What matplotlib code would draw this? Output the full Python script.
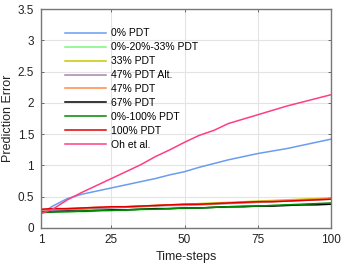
import matplotlib
matplotlib.use("Agg")
import matplotlib.pyplot as plt

plt.rcParams['font.family'] = ['Liberation Sans', 'DejaVu Sans']

t = [1, 5, 10, 15, 20, 25, 30, 35, 40, 45, 50, 55, 60, 65, 70, 75, 80, 85, 90, 95, 100]

pdt0 = [0.23, 0.35, 0.47, 0.54, 0.59, 0.64, 0.69, 0.74, 0.79, 0.85, 0.90, 0.97, 1.03, 1.09, 1.14, 1.19, 1.23, 1.27, 1.32, 1.37, 1.42]
pdt0_20_33 = [0.24, 0.25, 0.26, 0.26, 0.27, 0.28, 0.28, 0.29, 0.30, 0.31, 0.31, 0.32, 0.33, 0.33, 0.34, 0.35, 0.36, 0.37, 0.37, 0.38, 0.39]
pdt33 = [0.28, 0.29, 0.30, 0.31, 0.32, 0.33, 0.34, 0.35, 0.36, 0.37, 0.38, 0.39, 0.40, 0.41, 0.42, 0.43, 0.44, 0.45, 0.46, 0.47, 0.48]
pdt47alt = [0.27, 0.28, 0.29, 0.30, 0.31, 0.32, 0.33, 0.34, 0.35, 0.36, 0.36, 0.37, 0.38, 0.39, 0.40, 0.41, 0.42, 0.43, 0.44, 0.45, 0.46]
pdt47 = [0.29, 0.30, 0.31, 0.32, 0.33, 0.33, 0.34, 0.35, 0.36, 0.37, 0.37, 0.38, 0.39, 0.40, 0.41, 0.42, 0.43, 0.44, 0.45, 0.46, 0.47]
pdt67 = [0.25, 0.26, 0.27, 0.27, 0.28, 0.29, 0.29, 0.30, 0.31, 0.31, 0.32, 0.32, 0.33, 0.34, 0.34, 0.35, 0.35, 0.36, 0.37, 0.37, 0.38]
pdt0_100 = [0.25, 0.26, 0.26, 0.27, 0.28, 0.28, 0.29, 0.30, 0.30, 0.31, 0.32, 0.32, 0.33, 0.34, 0.35, 0.35, 0.36, 0.37, 0.38, 0.39, 0.40]
pdt100 = [0.30, 0.31, 0.31, 0.32, 0.33, 0.34, 0.34, 0.35, 0.36, 0.37, 0.38, 0.38, 0.39, 0.40, 0.41, 0.42, 0.42, 0.43, 0.44, 0.45, 0.46]
oh = [0.23, 0.30, 0.45, 0.57, 0.68, 0.79, 0.90, 1.01, 1.14, 1.25, 1.37, 1.48, 1.56, 1.67, 1.74, 1.81, 1.88, 1.95, 2.01, 2.07, 2.13]

labels = ['0% PDT', '0%-20%-33% PDT', '33% PDT', '47% PDT Alt.', '47% PDT',
          '67% PDT', '0%-100% PDT', '100% PDT', 'Oh et al.']
series = [pdt0, pdt0_20_33, pdt33, pdt47alt, pdt47, pdt67, pdt0_100, pdt100, oh]
colors = ['#6a9cf2', '#7cf57c', '#c8c800', '#a585ad', '#ff8a45', '#000000',
          '#008a00', '#e00000', '#ff3d85']

xticks = [1, 25, 50, 75, 100]
yticks = [0, 0.5, 1, 1.5, 2, 2.5, 3, 3.5]
yticklabels = ['0', '0.5', '1', '1.5', '2', '2.5', '3', '3.5']

fig = plt.figure(figsize=(3.43, 2.63), dpi=100)
ax = fig.add_axes([41/343, 35/263, 290/343, 219/263])

for y, c, lab in zip(series, colors, labels):
    ax.plot(t, y, color=c, lw=1.1, label=lab)

ax.set_xlim(1, 100)
ax.set_ylim(0, 3.5)
ax.set_xticks(xticks)
ax.set_xticklabels([str(v) for v in xticks])
ax.set_yticks(yticks)
ax.set_yticklabels(yticklabels)
ax.grid(True, color='#e4e4e4', lw=0.8)
ax.set_axisbelow(True)
ax.tick_params(axis='y', pad=5)
ax.tick_params(axis='x', pad=4)
ax.tick_params(direction='in', top=True, right=True, labelsize=8.5, length=2.5,
               width=0.6, colors='#555555', labelcolor='#222222')
for s in ax.spines.values():
    s.set_linewidth(1.0)
    s.set_color('#777777')
ax.set_xlabel('Time-steps', fontsize=9, color='#222222', labelpad=4)
ax.set_ylabel('Prediction Error', fontsize=9, color='#222222')
ax.yaxis.set_label_coords(-27/290, 0.5)

leg = ax.legend(loc='upper left', bbox_to_anchor=(0.068, 0.931), frameon=False,
                fontsize=7.5, handlelength=3.9, handletextpad=0.5,
                labelspacing=0.38, borderaxespad=0)

fig.savefig('out.png', dpi=100)
